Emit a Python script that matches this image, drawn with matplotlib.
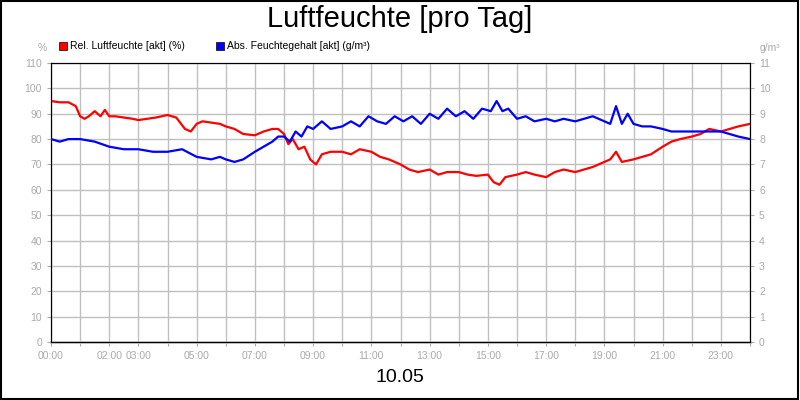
import matplotlib
matplotlib.use("Agg")
import matplotlib.pyplot as plt
from matplotlib.patches import Rectangle

plt.rcParams["font.family"] = "Liberation Sans"

rel_t = [0,0.3,0.6,0.85,1.0,1.15,1.3,1.5,1.7,1.85,2.0,2.2,2.5,2.8,3.0,3.3,3.6,4.0,4.3,4.6,4.8,5.0,5.2,5.5,5.8,6.0,6.3,6.6,7.0,7.3,7.6,7.8,8.0,8.15,8.3,8.5,8.7,8.9,9.1,9.3,9.6,10.0,10.3,10.6,11.0,11.3,11.6,12.0,12.3,12.6,13.0,13.3,13.6,14.0,14.3,14.6,15.0,15.2,15.4,15.6,16.0,16.3,16.6,17.0,17.3,17.6,18.0,18.3,18.6,19.0,19.2,19.4,19.6,20.0,20.3,20.6,21.0,21.3,21.6,22.0,22.3,22.6,23.0,23.3,23.6,24.0]
rel_v = [95,94.5,94.5,93,89,88,89,91,89,91.5,89,89,88.5,88,87.5,88,88.5,89.5,88.5,84,83,86,87,86.5,86,85,84,82,81.5,83,84,84,82,78,80,76,77,72,70,74,75,75,74,76,75,73,72,70,68,67,68,66,67,67,66,65.5,66,63,62,65,66,67,66,65,67,68,67,68,69,71,72,75,71,72,73,74,77,79,80,81,82,84,83,84,85,86]
abs_t = [0,0.3,0.6,1.0,1.5,2.0,2.5,3.0,3.5,4.0,4.5,5.0,5.5,5.8,6.0,6.3,6.6,7.0,7.3,7.6,7.8,8.0,8.2,8.4,8.6,8.8,9.0,9.3,9.6,10.0,10.3,10.6,10.9,11.2,11.5,11.8,12.1,12.4,12.7,13.0,13.3,13.6,13.9,14.2,14.5,14.8,15.1,15.3,15.5,15.7,16.0,16.3,16.6,17.0,17.3,17.6,18.0,18.3,18.6,19.0,19.2,19.4,19.6,19.8,20.0,20.3,20.6,21.0,21.3,21.6,22.0,22.3,22.6,23.0,23.3,23.6,24.0]
abs_v = [8.0,7.9,8.0,8.0,7.9,7.7,7.6,7.6,7.5,7.5,7.6,7.3,7.2,7.3,7.2,7.1,7.2,7.5,7.7,7.9,8.1,8.1,7.9,8.3,8.1,8.5,8.4,8.7,8.4,8.5,8.7,8.5,8.9,8.7,8.6,8.9,8.7,8.9,8.6,9.0,8.8,9.2,8.9,9.1,8.8,9.2,9.1,9.5,9.1,9.2,8.8,8.9,8.7,8.8,8.7,8.8,8.7,8.8,8.9,8.7,8.6,9.3,8.6,9.0,8.6,8.5,8.5,8.4,8.3,8.3,8.3,8.3,8.3,8.3,8.2,8.1,8.0]

x_ticks = [0,2,3,5,7,9,11,13,15,17,19,21,23]
x_labels = ["00:00","02:00","03:00","05:00","07:00","09:00","11:00","13:00","15:00","17:00","19:00","21:00","23:00"]
y_left = list(range(0,111,10))
y_right = list(range(0,12))

fig = plt.figure(figsize=(8,4), dpi=100)
fig.patches.append(Rectangle((0.001,0.002),0.997,0.996, transform=fig.transFigure, fill=False, ec="black", lw=1.5))
ax = fig.add_axes([51/800, 58/400, 699/800, 279/400])
ax.plot(rel_t, rel_v, color="#ff0000", lw=1.6, zorder=3)
ax.set_xlim(0,24); ax.set_ylim(0,110)
ax.set_xticks(range(0,25))
ax.set_xticklabels([x_labels[x_ticks.index(h)] if h in x_ticks else "" for h in range(25)])
ax.set_yticks(y_left)
ax.grid(True, color="#c0c0c0", lw=1)
ax.tick_params(colors="#aaaaaa", labelsize=7.5, length=3, labelcolor="#aaaaaa")
ax2 = ax.twinx()
ax2.plot(abs_t, abs_v, color="#0000ff", lw=1.6, zorder=3)
ax2.set_ylim(0,11); ax2.set_yticks(y_right)
ax2.tick_params(colors="#aaaaaa", labelsize=7.5, length=3, labelcolor="#aaaaaa")
for a in (ax, ax2):
    for s in a.spines.values():
        s.set_color("black")
ax.spines["bottom"].set_color("#c0c0c0"); ax.spines["bottom"].set_linewidth(2)

fig.text(0.5, 0.952, "Luftfeuchte [pro Tag]", ha="center", va="center", fontsize=21)
fig.text(0.5, 0.055, "10.05", ha="center", va="center", fontsize=14)
fig.text(0.053, 0.88, "%", ha="center", va="center", fontsize=7.5, color="#aaaaaa")
fig.text(0.962, 0.88, "g/m³", ha="center", va="center", fontsize=7.5, color="#aaaaaa")
fig.patches.append(Rectangle((59/800,(400-50)/400),8/800,8/400, transform=fig.transFigure, fc="#ff0000", ec="black", lw=0.5))
fig.text(70/800, (400-46)/400, "Rel. Luftfeuchte [akt] (%)", va="center", fontsize=7.5)
fig.patches.append(Rectangle((216/800,(400-50)/400),8/800,8/400, transform=fig.transFigure, fc="#0000ff", ec="black", lw=0.5))
fig.text(227/800, (400-46)/400, "Abs. Feuchtegehalt [akt] (g/m³)", va="center", fontsize=7.5)
fig.savefig("out.png", dpi=100)
